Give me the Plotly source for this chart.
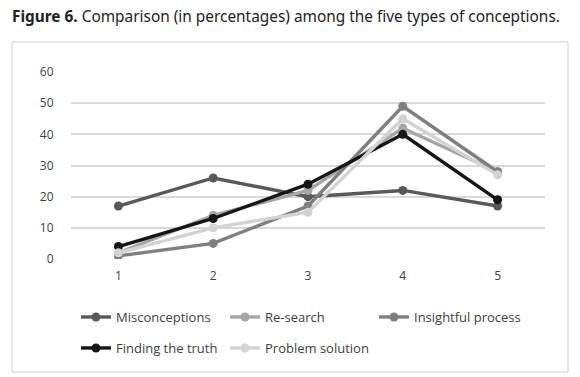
import plotly.graph_objects as go

categories = ["1", "2", "3", "4", "5"]
misconceptions = [17, 26, 20, 22, 17]
re_search = [2, 14, 22, 42, 28]
insightful = [1, 5, 17, 49, 28]
finding_truth = [4, 13, 24, 40, 19]
problem_solution = [2, 10, 15, 45, 27]
y_ticks = [0, 10, 20, 30, 40, 50, 60]

series = [
    ("Misconceptions", misconceptions, "#595959", "legend"),
    ("Re-search", re_search, "#a6a6a6", "legend"),
    ("Insightful process", insightful, "#7f7f7f", "legend"),
    ("Finding the truth", finding_truth, "#161616", "legend2"),
    ("Problem solution", problem_solution, "#d3d3d3", "legend2"),
]

fig = go.Figure()
for name, vals, color, lg in series:
    fig.add_trace(go.Scatter(
        x=categories, y=vals, name=name, mode="lines+markers",
        line=dict(color=color, width=3.4),
        marker=dict(color=color, size=9, symbol="circle"),
        legend=lg,
    ))

W, H = 580, 377
L, R, T, B = 71, 35, 72, 118
pw, ph = W - L - R, H - T - B

def px(x):
    return (x - L) / pw

def py(y):
    return (H - B - y) / ph

legend_common = dict(
    orientation="h", xanchor="left", yanchor="middle",
    font=dict(family="Open Sans", size=13, color="#404040"),
    bgcolor="rgba(0,0,0,0)", itemwidth=30,
    entrywidthmode="pixels", entrywidth=104,
    traceorder="normal",
)

fig.update_layout(
    width=W, height=H,
    margin=dict(l=L, r=R, t=T, b=B),
    paper_bgcolor="white", plot_bgcolor="white",
    title=dict(
        text="<b>Figure 6.</b> Comparison (in percentages) among the five types of conceptions.",
        x=12 / W, xanchor="left", xref="container",
        y=1 - 17 / H, yanchor="middle",
        font=dict(family="Noto Sans", size=15.4, color="#222222"),
    ),
    xaxis=dict(
        type="category", range=[-0.5, len(categories) - 0.5],
        showgrid=False, zeroline=False, showline=False,
        ticks="outside", ticklen=6, tickcolor="rgba(0,0,0,0)",
        tickfont=dict(family="Open Sans", size=12, color="#404040"),
    ),
    yaxis=dict(
        range=[0, 60], tickvals=y_ticks, showgrid=True, gridcolor="#d9d9d9",
        gridwidth=1.5, zeroline=False, showline=False,
        ticks="outside", ticklen=14, tickcolor="rgba(0,0,0,0)",
        tickfont=dict(family="Open Sans", size=12, color="#404040"),
    ),
    legend=dict(x=px(76), y=py(317), **legend_common),
    legend2=dict(x=px(76), y=py(348), **legend_common),
    shapes=[dict(
        type="rect", xref="paper", yref="paper",
        x0=px(12), x1=px(568), y0=py(372), y1=py(42),
        line=dict(color="#d0d0d0", width=1), fillcolor="rgba(0,0,0,0)", layer="below",
    )],
)

fig.write_html(
    "out.html",
    config={"displayModeBar": False},
    post_script="document.body.style.margin='0';",
)
